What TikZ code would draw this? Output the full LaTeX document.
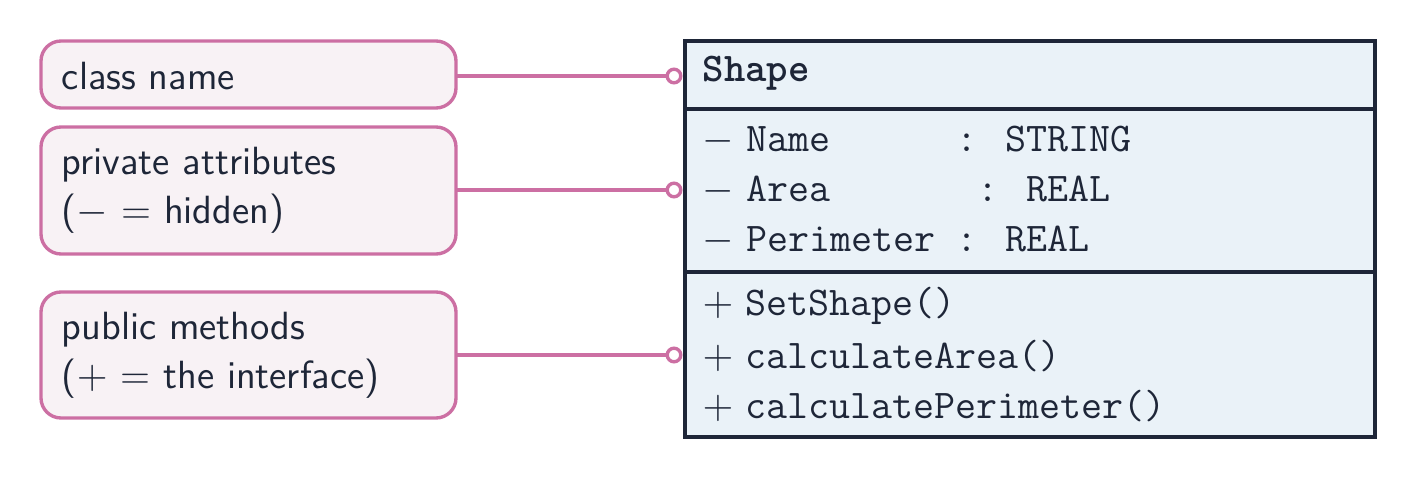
\documentclass[tikz,border=0pt]{standalone}
\usepackage{tikz}
\usepackage{xcolor}
\definecolor{notepink}{HTML}{CC6FA3}
\definecolor{notefill}{HTML}{F8F2F5}
\definecolor{classfill}{HTML}{EAF2F8}
\definecolor{inkdark}{HTML}{1E2638}
\tikzset{
  note/.style={draw=notepink,fill=notefill,rounded corners=2.5mm,line width=1.2pt},
  notetext/.style={anchor=west,align=left,text=inkdark,font=\sffamily\fontsize{14}{17.5}\selectfont},
  member/.style={anchor=west,text=inkdark,font=\ttfamily\fontsize{14.5}{16}\selectfont},
  link/.style={draw=notepink,line width=1.2pt},
  pin/.style={draw=notepink,fill=white,line width=1.2pt}
}
\newcommand{\priv}{$-$\kern0.3em}
\newcommand{\publ}{$+$\kern0.3em}
\begin{document}
\begin{tikzpicture}
  \useasboundingbox (0,0) rectangle (17.7125,6);
  % notes on the left
  \draw[note] (0.5125,4.65) rectangle (5.7,5.4875);
  \draw[note] (0.5125,2.825) rectangle (5.7,4.4125);
  \draw[note] (0.5125,0.775) rectangle (5.7,2.35);
  \node (cn) [notetext] at (0.65,5.05) {class name};
  \node (pa) [notetext] at (0.65,3.62) {private attributes\\($-$ = hidden)};
  \node (pm) [notetext] at (0.65,1.56) {public methods\\($+$ = the interface)};
  % class box
  \draw[inkdark,fill=classfill,line width=1.2pt] (8.5625,0.5375) rectangle (17.1875,5.4875);
  \draw[inkdark,line width=1.2pt] (8.5625,4.6375) -- (17.1875,4.6375);
  \draw[inkdark,line width=1.2pt] (8.5625,2.6) -- (17.1875,2.6);
  \node (nm) [member] at (8.66,5.08) {\textbf{Shape}};
  \node (a1) [member] at (8.66,4.25) {\priv Name\ \ \ \ \ \ : STRING};
  \node (a2) [member] at (8.66,3.625) {\priv Area\ \ \ \ \ \ \ : REAL};
  \node (a3) [member] at (8.66,3.0) {\priv Perimeter : REAL};
  \node (m1) [member] at (8.66,2.175) {\publ SetShape()};
  \node (m2) [member] at (8.66,1.55) {\publ calculateArea()};
  \node (m3) [member] at (8.66,0.925) {\publ calculatePerimeter()};
  % connectors
  \coordinate (cnp) at (8.425,5.05);
  \coordinate (pap) at (8.425,3.625);
  \coordinate (pmp) at (8.425,1.5625);
  \draw[link] (5.7,5.05) -- (cnp);
  \draw[link] (5.7,3.625) -- (pap);
  \draw[link] (5.7,1.5625) -- (pmp);
  \foreach \p in {cnp,pap,pmp}
    \draw[pin] (\p) circle (0.085);
\end{tikzpicture}
\end{document}
